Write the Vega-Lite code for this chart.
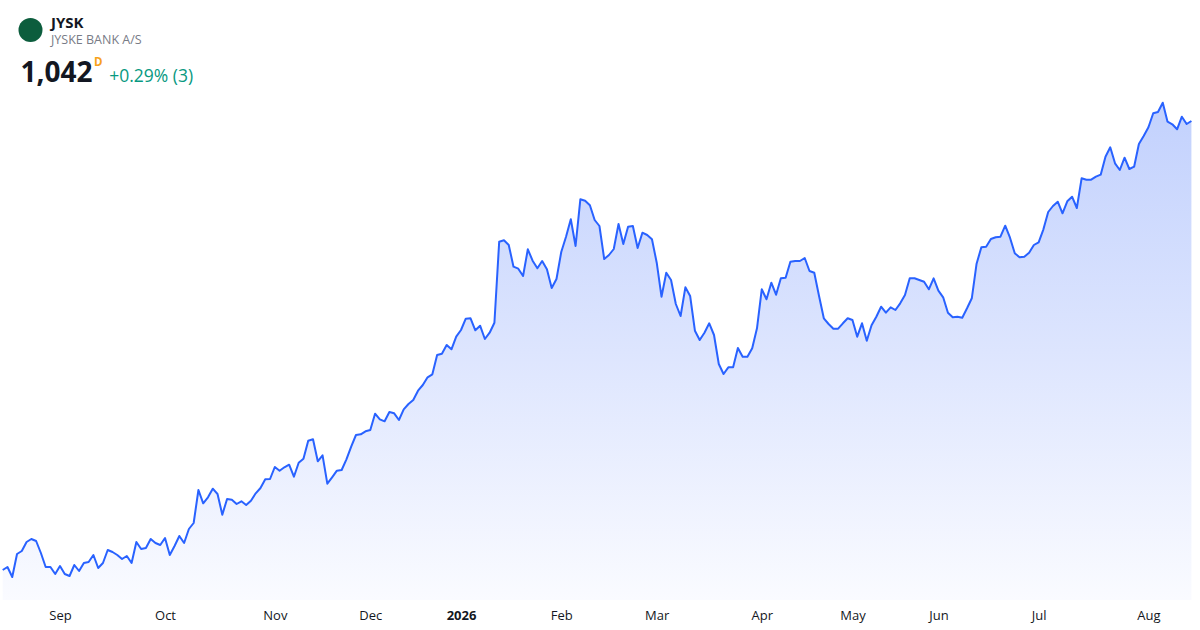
{
  "$schema": "https://vega.github.io/schema/vega-lite/v6.json",
  "width": 1200,
  "height": 550,
  "autosize": {"type": "none"},
  "padding": {"left": 0, "right": 0, "top": 50, "bottom": 30},
  "background": "#ffffff",
  "title": {
    "text": "JYSK",
    "subtitle": "JYSKE BANK A/S",
    "anchor": "start",
    "frame": "group",
    "dx": 51,
    "offset": -28,
    "font": "Open Sans",
    "fontSize": 15,
    "fontWeight": "bold",
    "color": "#131722",
    "subtitleFont": "Open Sans",
    "subtitleFontSize": 12.5,
    "subtitleColor": "#787b86",
    "subtitlePadding": 3
  },
  "data": {
    "values": [
      {"day": 0, "close": 593}, {"day": 1, "close": 596}, {"day": 2, "close": 586}, {"day": 3, "close": 609},
      {"day": 4, "close": 612}, {"day": 5, "close": 621}, {"day": 6, "close": 624}, {"day": 7, "close": 622},
      {"day": 8, "close": 610}, {"day": 9, "close": 596}, {"day": 10, "close": 596}, {"day": 11, "close": 589},
      {"day": 12, "close": 597}, {"day": 13, "close": 589}, {"day": 14, "close": 587}, {"day": 15, "close": 598},
      {"day": 16, "close": 592}, {"day": 17, "close": 600}, {"day": 18, "close": 601}, {"day": 19, "close": 608},
      {"day": 20, "close": 595}, {"day": 21, "close": 600}, {"day": 22, "close": 613}, {"day": 23, "close": 611},
      {"day": 24, "close": 608}, {"day": 25, "close": 604}, {"day": 26, "close": 607}, {"day": 27, "close": 600},
      {"day": 28, "close": 621}, {"day": 29, "close": 614}, {"day": 30, "close": 615}, {"day": 31, "close": 624},
      {"day": 32, "close": 620}, {"day": 33, "close": 618}, {"day": 34, "close": 625}, {"day": 35, "close": 608},
      {"day": 36, "close": 617}, {"day": 37, "close": 627}, {"day": 38, "close": 620}, {"day": 39, "close": 634},
      {"day": 40, "close": 640}, {"day": 41, "close": 673}, {"day": 42, "close": 659.7}, {"day": 43, "close": 665.7},
      {"day": 44, "close": 674.3}, {"day": 45, "close": 669}, {"day": 46, "close": 648.3}, {"day": 47, "close": 664},
      {"day": 48, "close": 663.3}, {"day": 49, "close": 659}, {"day": 50, "close": 661.7}, {"day": 51, "close": 658},
      {"day": 52, "close": 662.3}, {"day": 53, "close": 669.7}, {"day": 54, "close": 675}, {"day": 55, "close": 683.7},
      {"day": 56, "close": 684}, {"day": 57, "close": 696}, {"day": 58, "close": 692.3}, {"day": 59, "close": 695.7},
      {"day": 60, "close": 698.3}, {"day": 61, "close": 686.3}, {"day": 62, "close": 700.3}, {"day": 63, "close": 704.3},
      {"day": 64, "close": 722.3}, {"day": 65, "close": 723.7}, {"day": 66, "close": 701.7}, {"day": 67, "close": 707.7},
      {"day": 68, "close": 679.3}, {"day": 69, "close": 685.7}, {"day": 70, "close": 692.3}, {"day": 71, "close": 693},
      {"day": 72, "close": 703.7}, {"day": 73, "close": 716.3}, {"day": 74, "close": 728}, {"day": 75, "close": 728.7},
      {"day": 76, "close": 731.7}, {"day": 77, "close": 733}, {"day": 78, "close": 749.3}, {"day": 79, "close": 743.7},
      {"day": 80, "close": 741.7}, {"day": 81, "close": 751}, {"day": 82, "close": 749.7}, {"day": 83, "close": 743},
      {"day": 84, "close": 753.7}, {"day": 85, "close": 759}, {"day": 86, "close": 763}, {"day": 87, "close": 772.3},
      {"day": 88, "close": 778}, {"day": 89, "close": 785.7}, {"day": 90, "close": 788.7}, {"day": 91, "close": 808},
      {"day": 92, "close": 809.3}, {"day": 93, "close": 818}, {"day": 94, "close": 813.7}, {"day": 95, "close": 826.3},
      {"day": 96, "close": 833}, {"day": 97, "close": 844.3}, {"day": 98, "close": 844.7}, {"day": 99, "close": 832.7},
      {"day": 100, "close": 837.3}, {"day": 101, "close": 824}, {"day": 102, "close": 830.3}, {"day": 103, "close": 840.3},
      {"day": 104, "close": 921.3}, {"day": 105, "close": 922.7}, {"day": 106, "close": 918}, {"day": 107, "close": 896.3},
      {"day": 108, "close": 894.3}, {"day": 109, "close": 887}, {"day": 110, "close": 913.7}, {"day": 111, "close": 902.3},
      {"day": 112, "close": 894.7}, {"day": 113, "close": 902}, {"day": 114, "close": 893.7}, {"day": 115, "close": 875},
      {"day": 116, "close": 884}, {"day": 117, "close": 911}, {"day": 118, "close": 926.3}, {"day": 119, "close": 943.7},
      {"day": 120, "close": 917}, {"day": 121, "close": 963.7}, {"day": 122, "close": 962.3}, {"day": 123, "close": 957.7},
      {"day": 124, "close": 943}, {"day": 125, "close": 937}, {"day": 126, "close": 904}, {"day": 127, "close": 908},
      {"day": 128, "close": 914}, {"day": 129, "close": 939}, {"day": 130, "close": 919}, {"day": 131, "close": 936.3},
      {"day": 132, "close": 937}, {"day": 133, "close": 915}, {"day": 134, "close": 930.3}, {"day": 135, "close": 928},
      {"day": 136, "close": 923.7}, {"day": 137, "close": 900.3}, {"day": 138, "close": 866.3}, {"day": 139, "close": 890.3},
      {"day": 140, "close": 883}, {"day": 141, "close": 859}, {"day": 142, "close": 847}, {"day": 143, "close": 875.7},
      {"day": 144, "close": 867}, {"day": 145, "close": 832.3}, {"day": 146, "close": 823}, {"day": 147, "close": 830.3},
      {"day": 148, "close": 839.7}, {"day": 149, "close": 828}, {"day": 150, "close": 799}, {"day": 151, "close": 789},
      {"day": 152, "close": 795.7}, {"day": 153, "close": 795.7}, {"day": 154, "close": 815}, {"day": 155, "close": 806.3},
      {"day": 156, "close": 806.3}, {"day": 157, "close": 814.7}, {"day": 158, "close": 834.7}, {"day": 159, "close": 873.7},
      {"day": 160, "close": 863.7}, {"day": 161, "close": 880.3}, {"day": 162, "close": 868.3}, {"day": 163, "close": 884.7},
      {"day": 164, "close": 885.3}, {"day": 165, "close": 901.3}, {"day": 166, "close": 902}, {"day": 167, "close": 902},
      {"day": 168, "close": 905}, {"day": 169, "close": 892}, {"day": 170, "close": 890.3}, {"day": 171, "close": 867},
      {"day": 172, "close": 844.7}, {"day": 173, "close": 839}, {"day": 174, "close": 834.3}, {"day": 175, "close": 834.3},
      {"day": 176, "close": 839.7}, {"day": 177, "close": 844.7}, {"day": 178, "close": 843}, {"day": 179, "close": 826.3},
      {"day": 180, "close": 839.7}, {"day": 181, "close": 822.3}, {"day": 182, "close": 837.7}, {"day": 183, "close": 846.3},
      {"day": 184, "close": 856.3}, {"day": 185, "close": 850.3}, {"day": 186, "close": 855.7}, {"day": 187, "close": 853},
      {"day": 188, "close": 859.7}, {"day": 189, "close": 868}, {"day": 190, "close": 884.7}, {"day": 191, "close": 884.7},
      {"day": 192, "close": 883}, {"day": 193, "close": 881.3}, {"day": 194, "close": 873.7}, {"day": 195, "close": 884.7},
      {"day": 196, "close": 872.3}, {"day": 197, "close": 865.7}, {"day": 198, "close": 850.3}, {"day": 199, "close": 845.7},
      {"day": 200, "close": 846.3}, {"day": 201, "close": 845.3}, {"day": 202, "close": 854.7}, {"day": 203, "close": 864.7},
      {"day": 204, "close": 899.3}, {"day": 205, "close": 915.7}, {"day": 206, "close": 916.3}, {"day": 207, "close": 924},
      {"day": 208, "close": 925.7}, {"day": 209, "close": 926.3}, {"day": 210, "close": 937.3}, {"day": 211, "close": 925.3},
      {"day": 212, "close": 909.7}, {"day": 213, "close": 905.7}, {"day": 214, "close": 906.3}, {"day": 215, "close": 910.3},
      {"day": 216, "close": 918}, {"day": 217, "close": 920.7}, {"day": 218, "close": 933.7}, {"day": 219, "close": 951},
      {"day": 220, "close": 957}, {"day": 221, "close": 961.3}, {"day": 222, "close": 949.7}, {"day": 223, "close": 961.7},
      {"day": 224, "close": 966.3}, {"day": 225, "close": 955}, {"day": 226, "close": 984.7}, {"day": 227, "close": 983.3},
      {"day": 228, "close": 983.3}, {"day": 229, "close": 986.3}, {"day": 230, "close": 988.3}, {"day": 231, "close": 1006.3},
      {"day": 232, "close": 1015.7}, {"day": 233, "close": 999.7}, {"day": 234, "close": 993}, {"day": 235, "close": 1005.3},
      {"day": 236, "close": 994}, {"day": 237, "close": 996.3}, {"day": 238, "close": 1019}, {"day": 239, "close": 1027},
      {"day": 240, "close": 1035.7}, {"day": 241, "close": 1049.7}, {"day": 242, "close": 1051}, {"day": 243, "close": 1060.3},
      {"day": 244, "close": 1041.3}, {"day": 245, "close": 1038.7}, {"day": 246, "close": 1033.7}, {"day": 247, "close": 1046.3},
      {"day": 248, "close": 1039}, {"day": 249, "close": 1042}
    ]
  },
  "layer": [
    {
      "mark": {
        "type": "area",
        "opacity": 1,
        "color": {
          "gradient": "linear",
          "x1": 0, "y1": 0, "x2": 0, "y2": 1,
          "stops": [
            {"offset": 0, "color": "#c2d1fd"},
            {"offset": 0.5, "color": "#dde5fe"},
            {"offset": 1, "color": "#fafbff"}
          ]
        }
      },
      "encoding": {
        "x": {
          "field": "day",
          "type": "quantitative",
          "scale": {"domain": [-0.566, 250.8], "nice": false, "zero": false},
          "axis": {
            "orient": "bottom",
            "zindex": 1,
            "values": [12, 34, 57, 77, 96, 117, 137, 159, 178, 196, 217, 240],
            "labelExpr": "['Sep','Oct','Nov','Dec','2026','Feb','Mar','Apr','May','Jun','Jul','Aug'][indexof([12,34,57,77,96,117,137,159,178,196,217,240], datum.value)]",
            "labelFontWeight": {"condition": {"test": "datum.value == 96", "value": "bold"}, "value": "normal"},
            "labelFont": "Open Sans",
            "labelFontSize": 13,
            "labelColor": "#131722",
            "labelPadding": 9,
            "labelOverlap": false,
            "labelFlush": false,
            "ticks": false,
            "domain": false,
            "grid": false,
            "title": null
          }
        },
        "y": {
          "field": "close",
          "type": "quantitative",
          "scale": {"domain": [563, 1113], "nice": false, "zero": false},
          "axis": {
            "orient": "left",
            "labels": false,
            "ticks": false,
            "domain": false,
            "grid": false,
            "title": "1,042",
            "titleAngle": 0,
            "titleX": 20,
            "titleY": 31.7,
            "titleAlign": "left",
            "titleBaseline": "alphabetic",
            "titleFont": "Open Sans",
            "titleFontSize": 28,
            "titleFontWeight": "bold",
            "titleColor": "#131722"
          }
        },
        "y2": {"datum": 563}
      }
    },
    {
      "mark": {"type": "line", "strokeWidth": 2, "strokeJoin": "round"},
      "encoding": {
        "x": {
          "field": "day",
          "type": "quantitative",
          "scale": {"domain": [-0.566, 250.8], "nice": false, "zero": false},
          "axis": {
            "orient": "top",
            "labels": false,
            "ticks": false,
            "domain": false,
            "grid": false,
            "title": "D",
            "titleX": 93.5,
            "titleY": 15,
            "titleAlign": "left",
            "titleBaseline": "alphabetic",
            "titleFont": "Open Sans",
            "titleFontSize": 11.5,
            "titleFontWeight": "bold",
            "titleColor": "#f7a21b"
          }
        },
        "y": {
          "field": "close",
          "type": "quantitative",
          "scale": {"domain": [563, 1113], "nice": false, "zero": false},
          "axis": {
            "orient": "right",
            "labels": false,
            "ticks": false,
            "domain": false,
            "grid": false,
            "title": "+0.29% (3)",
            "titleAngle": 0,
            "titleX": -1091.3,
            "titleY": 31.7,
            "titleAlign": "left",
            "titleBaseline": "alphabetic",
            "titleFont": "Open Sans",
            "titleFontSize": 17.5,
            "titleFontWeight": "normal",
            "titleColor": "#089981"
          }
        },
        "color": {
          "datum": "JYSK",
          "scale": {"range": ["#2962ff"]},
          "legend": {
            "orient": "none",
            "legendX": 18.5,
            "legendY": -32,
            "title": null,
            "symbolType": "circle",
            "symbolSize": 576,
            "labelExpr": "''",
            "labelFontSize": 1,
            "encode": {
              "symbols": {
                "update": {
                  "fill": {"value": "#0c5d3d"},
                  "stroke": {"value": "#0c5d3d"},
                  "strokeWidth": {"value": 0},
                  "opacity": {"value": 1}
                }
              }
            }
          }
        }
      }
    }
  ],
  "resolve": {"axis": {"x": "independent", "y": "independent"}},
  "config": {"view": {"stroke": null}, "font": "Open Sans"}
}
